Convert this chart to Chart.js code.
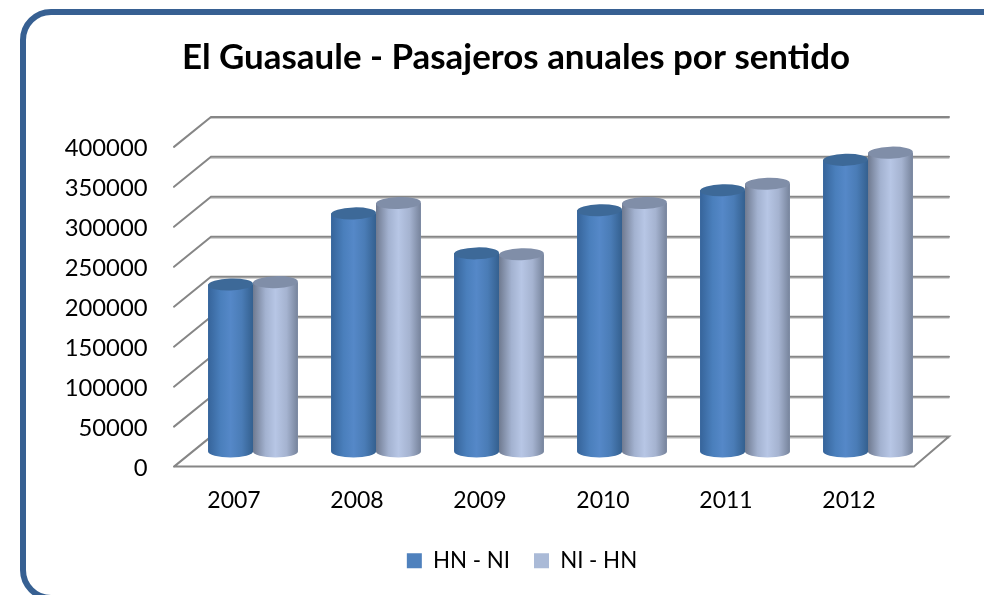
<!DOCTYPE html>
<html>
<head>
<meta charset="utf-8">
<script src="https://cdn.jsdelivr.net/npm/chart.js@4"></script>
<style>
    html, body { margin: 0; padding: 0; background: #fff; overflow: hidden; }
    #page { position: relative; width: 984px; height: 595px; overflow: hidden; }
    #frame {
        position: absolute; left: 20px; top: 9px; width: 1020px; height: 592px;
        border: 6px solid #376092; border-radius: 31px; box-sizing: border-box;
    }
    #chart { position: absolute; left: 0; top: 0; }
</style>
</head>
<body>
<div id="page">
    <div id="frame"></div>
    <canvas id="chart" width="984" height="595"></canvas>
</div>
<script>
const years = ['2007', '2008', '2009', '2010', '2011', '2012'];
const hnNi = [209000, 298000, 248000, 302000, 327000, 365000];
const niHn = [212000, 311000, 247000, 311000, 335000, 374000];

const fontName = 'Lato, "Open Sans", sans-serif';
const gridColor = '#868686';

// cylinder colours, per dataset: edge, middle, far edge, cap
const cylinderStyles = [
    { stops: ['#36649a', '#4a7fbc', '#5588c8', '#4a7cb6', '#34608f'], cap: '#3d6998' },
    { stops: ['#6f7a90', '#a3b2d0', '#b7c6e5', '#a5b3d0', '#76839b'], cap: '#808ea8' }
];

// draws the floor and the back wall from the y scale ticks
const wallPlugin = {
    id: 'wall',
    afterLayout(chart) {
        // legend sits a little right of the title centre
        chart.legend.left += 6;
        chart.legend.right += 6;
    },
    beforeDatasetsDraw(chart) {
        const ctx = chart.ctx;
        const y = chart.scales.y;
        const frontLeft = 174, backLeft = 211, frontRight = 914, backRight = 949;
        const depthY = 15;

        ctx.save();
        ctx.lineCap = 'round';
        y.ticks.forEach(function(tick) {
            const py = y.getPixelForValue(tick.value);
            ctx.strokeStyle = '#c4c4c4';
            ctx.lineWidth = 1;
            ctx.beginPath();
            ctx.moveTo(backLeft, py - depthY + 1.5);
            ctx.lineTo(backRight, py - depthY + 1.5);
            ctx.stroke();

            ctx.strokeStyle = gridColor;
            ctx.lineWidth = 2;
            ctx.beginPath();
            ctx.moveTo(frontLeft, py + depthY);
            ctx.lineTo(backLeft, py - depthY);
            ctx.lineTo(backRight, py - depthY);
            if (tick.value === 0) {
                ctx.lineTo(frontRight, py + depthY);
                ctx.lineTo(frontLeft, py + depthY);
            }
            ctx.stroke();
        });
        ctx.restore();
    }
};

// paints each bar element as a cylinder
const cylinderPlugin = {
    id: 'cylinder',
    afterDatasetsDraw(chart) {
        const ctx = chart.ctx;
        const capHeight = 6;

        chart.data.datasets.forEach(function(dataset, datasetIndex) {
            const style = cylinderStyles[datasetIndex];
            chart.getDatasetMeta(datasetIndex).data.forEach(function(bar) {
                const left = bar.x - bar.width / 2;
                const right = bar.x + bar.width / 2;
                const rx = bar.width / 2;

                const gradient = ctx.createLinearGradient(left, 0, right, 0);
                gradient.addColorStop(0, style.stops[0]);
                gradient.addColorStop(0.28, style.stops[1]);
                gradient.addColorStop(0.5, style.stops[2]);
                gradient.addColorStop(0.75, style.stops[3]);
                gradient.addColorStop(1, style.stops[4]);

                ctx.save();
                ctx.fillStyle = gradient;
                ctx.beginPath();
                ctx.moveTo(left, bar.y);
                ctx.lineTo(left, bar.base);
                ctx.ellipse(bar.x, bar.base, rx, capHeight, 0, Math.PI, 0, true);
                ctx.lineTo(right, bar.y);
                ctx.closePath();
                ctx.fill();

                ctx.fillStyle = style.cap;
                ctx.beginPath();
                ctx.ellipse(bar.x, bar.y, rx, capHeight, -0.03, 0, Math.PI * 2);
                ctx.fill();
                ctx.restore();
            });
        });
    }
};

new Chart(document.getElementById('chart').getContext('2d'), {
    type: 'bar',
    data: {
        labels: years,
        datasets: [
            { label: 'HN - NI', data: hnNi, backgroundColor: '#4f81bd', borderWidth: 0 },
            { label: 'NI - HN', data: niHn, backgroundColor: '#aabad7', borderWidth: 0 }
        ]
    },
    options: {
        responsive: false,
        animation: false,
        categoryPercentage: 0.73,
        barPercentage: 1,
        layout: { padding: { left: 60, right: 12, top: 37, bottom: 13 } },
        plugins: {
            title: {
                display: true,
                text: 'El Guasaule - Pasajeros anuales por sentido',
                color: '#000',
                font: { family: fontName, size: 34.9, weight: 'bold' },
                padding: { top: 0, bottom: 53 }
            },
            legend: {
                position: 'bottom',
                labels: {
                    color: '#000',
                    font: { family: fontName, size: 22.3 },
                    boxWidth: 15,
                    boxHeight: 15,
                    padding: 24
                }
            },
            tooltip: { enabled: false }
        },
        scales: {
            x: {
                grid: { display: false },
                border: { display: false },
                afterFit(scale) { scale.height -= 15.5; },
                ticks: {
                    color: '#000',
                    font: { family: fontName, size: 23 },
                    labelOffset: -19,
                    padding: 27,
                    maxRotation: 0
                }
            },
            y: {
                min: 0,
                max: 400000,
                grid: { display: false },
                border: { display: false },
                afterFit(scale) { scale.width = 131.5; },
                ticks: {
                    stepSize: 50000,
                    color: '#000',
                    font: { family: fontName, size: 23.8 },
                    labelOffset: 16.5,
                    padding: 36,
                    callback: function(value) { return String(value); }
                }
            },
            // empty axis, keeps the plot off the right edge so the title stays centred
            yRight: {
                position: 'right',
                grid: { display: false },
                border: { display: false },
                ticks: { display: false },
                afterFit(scale) { scale.width = 42.5; }
            }
        }
    },
    plugins: [wallPlugin, cylinderPlugin]
});
</script>
</body>
</html>
